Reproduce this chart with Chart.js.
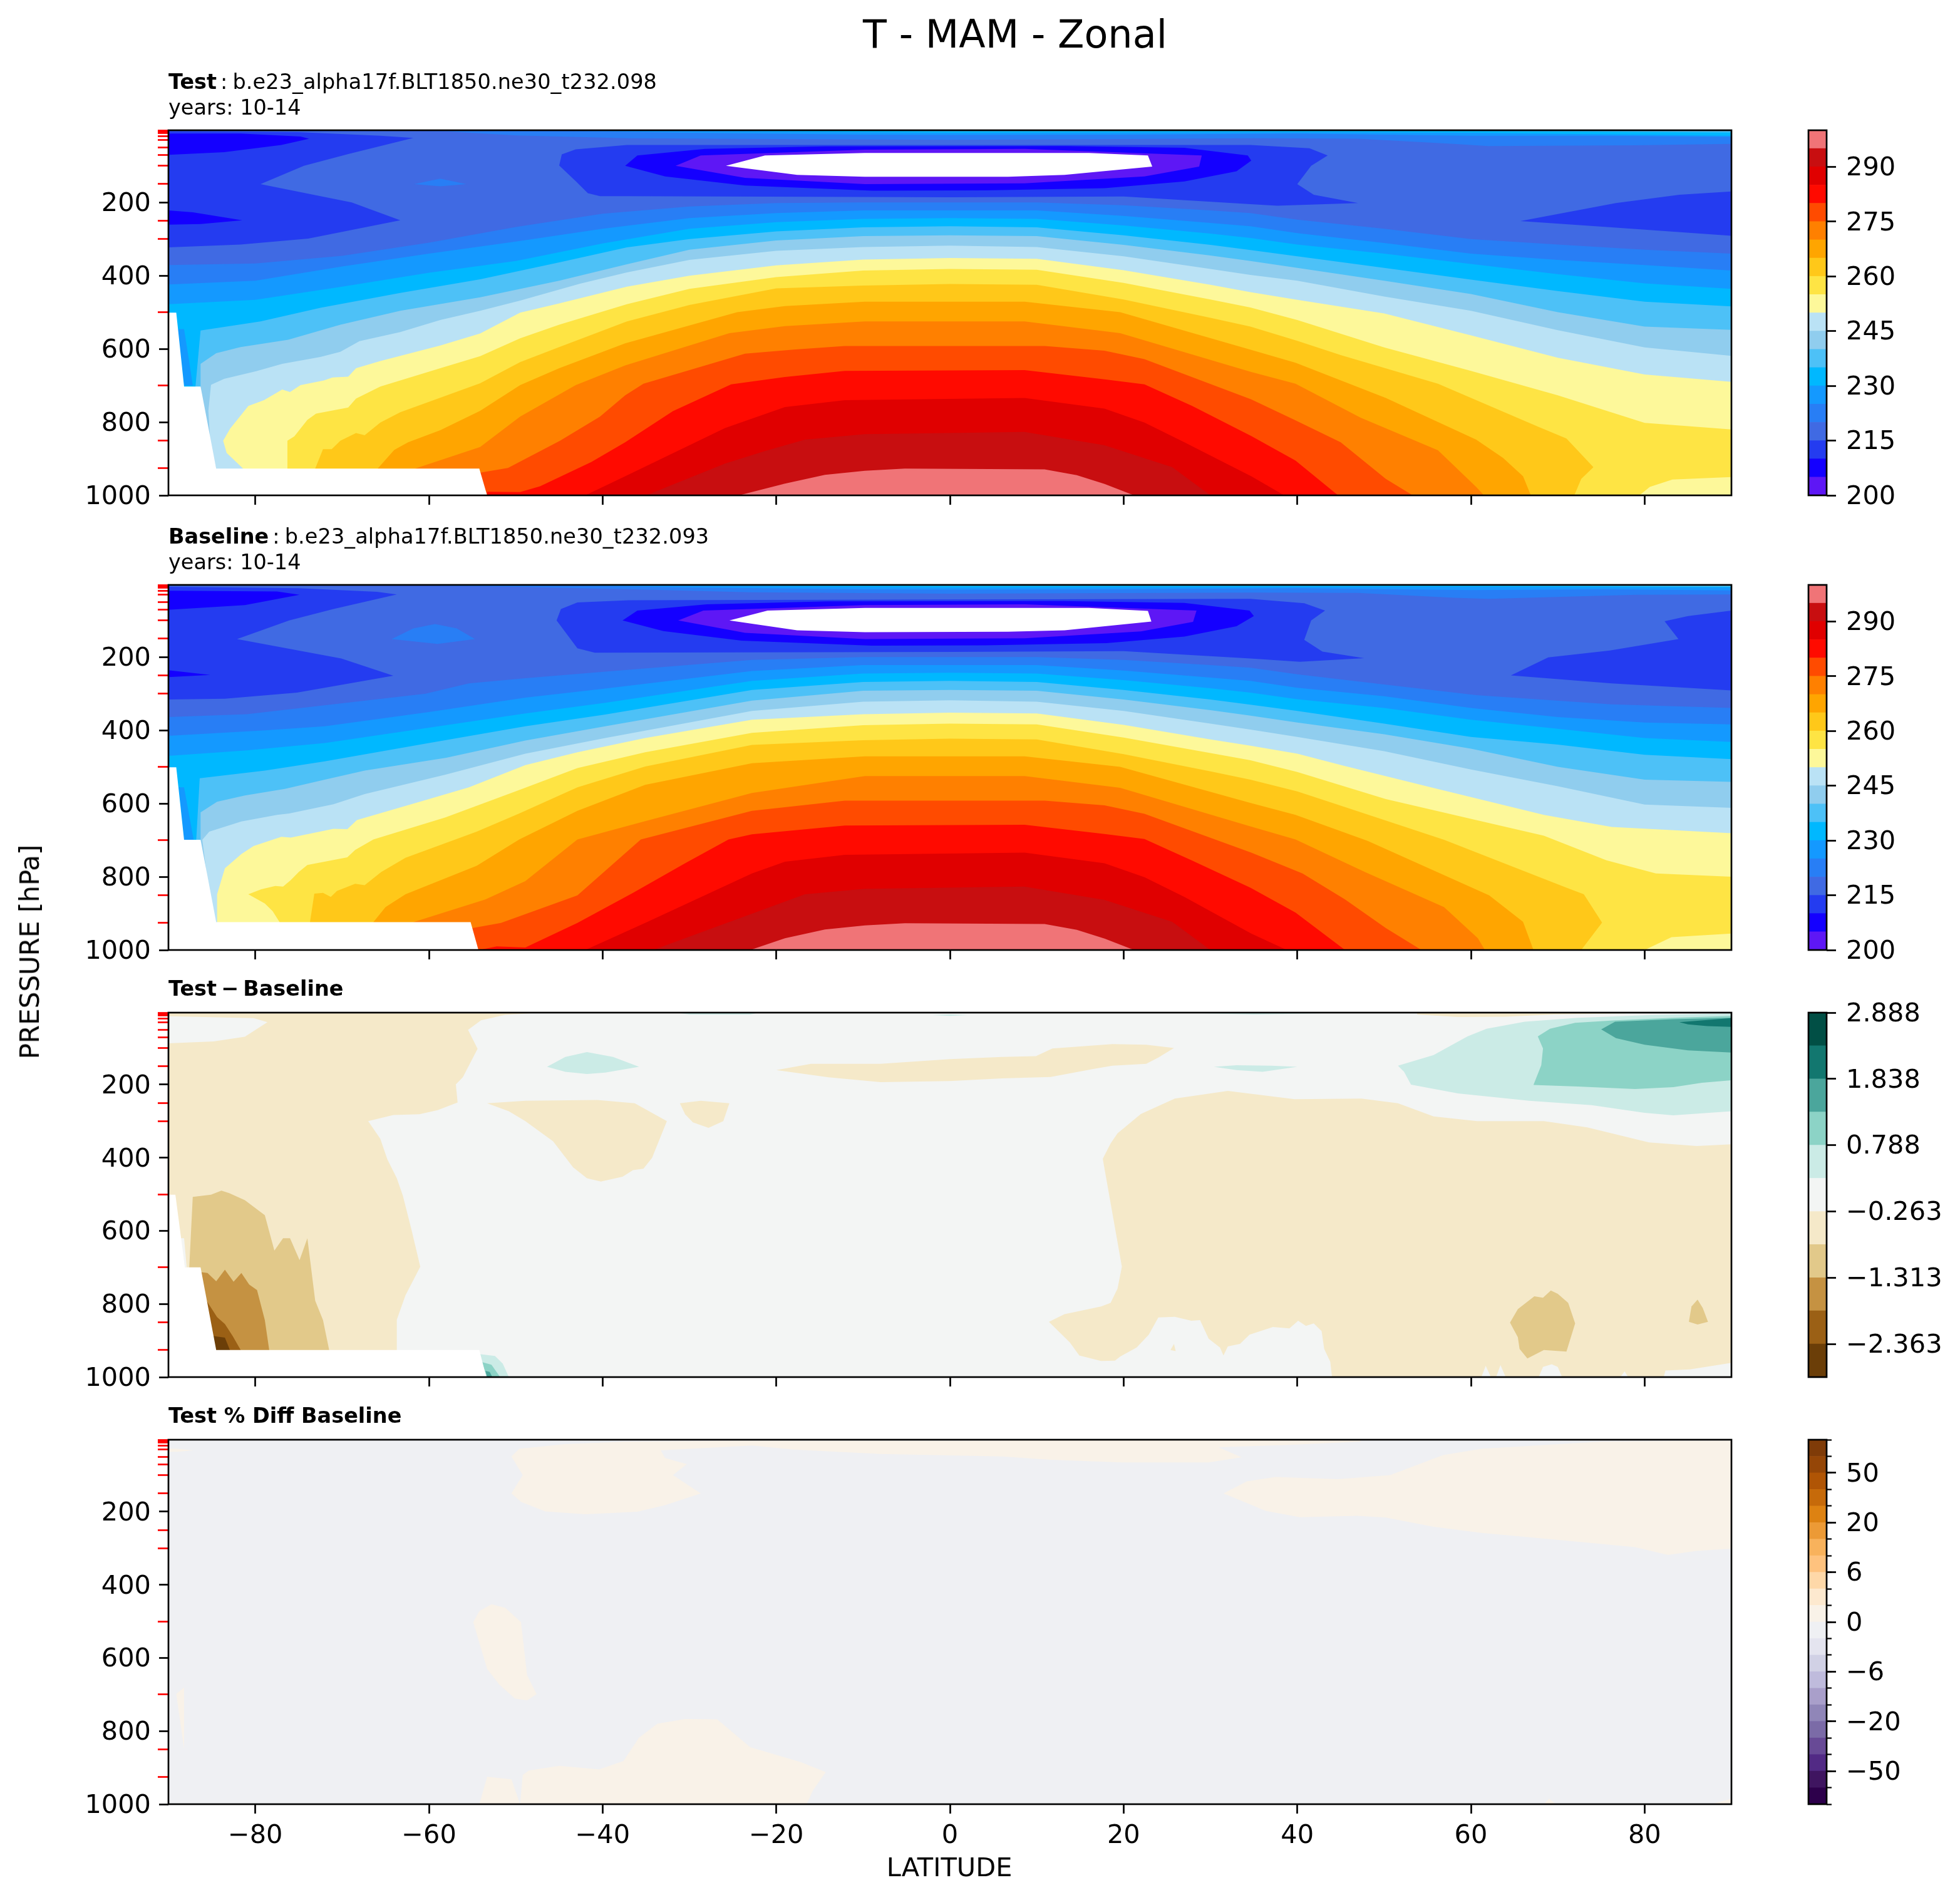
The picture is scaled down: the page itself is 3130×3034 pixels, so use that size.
<!DOCTYPE html>
<html><head><meta charset="utf-8">
<script src="https://cdn.jsdelivr.net/npm/chart.js@4/dist/chart.umd.js"></script>
<style>
html,body{margin:0;padding:0;background:#fff}
#page{position:relative;width:3130px;height:3034px;background:#fff;overflow:hidden;font-family:'DejaVu Sans';color:#000}
canvas{position:absolute}
.t{position:absolute;white-space:pre;line-height:1em}
</style></head><body><div id="page"></div>
<script>
// ---------- axis values ----------
const latTicks=[-80,-60,-40,-20,0,20,40,60,80];
const pressureTicks=[200,400,600,800,1000];
const dataLevels=[3,5,7,10,20,30,50,70,100,150,250,300,500,700,850,925];
const tempLevels=[200,205,210,215,220,225,230,235,240,245,250,255,260,265,270,275,280,285,290,295,300];
const tempTicks=[200,215,230,245,260,275,290];
const tempColors=['#5e17f5','#1400ff','#243cf0','#406ae3','#287ef5','#1499ff','#00b8ff','#4dc1f7','#90cdee','#bae2f5','#fdf89a','#fee444','#ffc819','#ffa500','#ff8000','#ff4b00','#ff0a00','#e00000','#c80e10','#f07477'];
const diffLevels=[-2.888,-2.363,-1.838,-1.313,-0.788,-0.263,0.263,0.788,1.313,1.838,2.363,2.888];
const diffTicks=[-2.363,-1.313,-0.263,0.788,1.838,2.888];
const diffColors=['#6b3e08','#9b6015','#c59242','#e2c98a','#f5e9c9','#f3f5f4','#cbebe6','#8cd3c6','#4ba69c','#12776f','#014f45'];
const pctLevels=[-100,-75,-50,-40,-30,-20,-15,-10,-6,-4,-2,0,2,4,6,10,15,20,30,40,50,75,100];
const pctTicks=[-50,-20,-6,0,6,20,50];
const pctColors=['#2d004b','#3f1560','#522a85','#684a96','#7b6ba7','#9086b8','#a99fca','#bfbbdc','#d1d1e5','#e4e4ef','#eff0f3','#f9f2e8','#fde9cf','#fed8a8','#fec27e','#f8b25c','#ec9a36','#dd8212','#c66a0a','#b05505','#954607','#7f3b08'];

// ---------- Test panel: isotherms (lat, hPa) ----------
const a220=[[-90,371],[-80,367],[-70,346],[-60,310],[-50,267],[-40,231],[-30,211],[-20,202],[-10,200],[0,200],[10,200],[20,208],[30,222],[34.6,229],[40,247],[50,272],[60,300],[70,315],[80,329],[90,340]];
const a225=[[-90,424],[-80,414],[-70,375],[-60,340],[-50,307],[-40,272],[-30,243],[-20,229],[-10,222],[0,222],[10,222],[20,237],[30,256],[34.6,265],[40,284],[50,311],[60,340],[70,357],[80,371],[90,386]];
const a230=[[-90,478],[-80,466],[-70,430],[-60,392],[-50,360],[-40,312],[-30,272],[-20,254],[-10,245],[0,243],[10,245],[20,263],[30,285],[34.6,297],[40,315],[50,340],[60,368],[70,396],[80,421],[90,436]];
const a235=[[-86.9,1000],[-86.9,706],[-86.3,550],[-79.4,525],[-72.5,488],[-63.3,447],[-54.1,410],[-45,364],[-37.2,323],[-30,300],[-20,279],[-10,268],[0,265],[10,268],[20,290],[30,316],[34.6,330],[40,347],[50,379],[60,411],[70,442],[80,471],[90,484]];
const a240=[[-86.3,1000],[-86.3,641],[-84.5,612],[-81.7,595],[-76.2,575],[-70.2,534],[-63.3,496],[-54.1,459],[-45,414],[-37.2,369],[-30,329],[-20,304],[-10,292],[0,290],[10,292],[20,316],[30,345],[34.6,360],[40,379],[50,414],[60,450],[70,500],[80,539],[90,548]];
const a245=[[-84.5,1000],[-84.5,927],[-85.2,851],[-85.4,769],[-85.1,698],[-83.6,682],[-79.9,661],[-76.9,641],[-72.5,622],[-70.2,608],[-68,579],[-63.3,554],[-58.7,521],[-54.1,496],[-49.5,468],[-42.6,422],[-37.2,391],[-30,357],[-20,332],[-10,322],[0,318],[10,322],[20,347],[30,382],[34.6,398],[40,414],[50,457],[60,496],[70,549],[80,596],[90,619]];
const a250=[[-81.4,1000],[-81.4,927],[-83.3,884],[-83.7,851],[-82.9,818],[-80.8,756],[-79,740],[-76.9,711],[-76,718],[-74.8,699],[-72.1,686],[-71.1,678],[-69.3,676],[-68.4,653],[-65.6,633],[-58.7,591],[-54.1,558],[-49.5,501],[-45,476],[-37.2,430],[-30,400],[-20,372],[-10,356],[0,352],[10,354],[20,385],[30,425],[34.6,445],[40,466],[50,503],[60,563],[70,624],[80,670],[90,690]];
const a255=[[-76.3,1000],[-76.3,851],[-75.5,839],[-74,794],[-73,777],[-69.3,760],[-68.4,736],[-65.6,703],[-58.7,653],[-54.1,620],[-49.5,571],[-45,534],[-37.2,478],[-30,436],[-20,404],[-10,386],[0,382],[10,384],[20,420],[30,465],[34.6,487],[40,521],[50,596],[60,660],[70,727],[80,802],[90,820]];
const a260=[[-73.1,1000],[-73.1,927],[-72.2,874],[-71.2,874],[-70.2,851],[-68.4,830],[-67.4,836],[-65.6,801],[-63.3,773],[-54.1,694],[-49.5,636],[-45,595],[-37.2,525],[-30,480],[-20,435],[-10,427],[0,423],[10,425],[20,465],[30,515],[34.6,539],[40,578],[45,617],[56.2,695],[67.8,813],[71,845],[74.1,923],[72.7,955],[71.9,1000]];
const a265=[[-65.9,1000],[-65.9,927],[-64,876],[-62.4,855],[-58.7,822],[-54.1,769],[-49.5,699],[-45,653],[-37.4,585],[-24.5,500],[-19,483],[-9.8,471],[8.6,471],[19.6,500],[34.7,603],[39.8,638],[50.2,734],[60.6,848],[63.7,898],[66,948],[66.9,1000]];
const a270=[[-61.6,1000],[-61.6,927],[-54.1,868],[-49.5,785],[-43.1,699],[-37.4,645],[-25.4,557],[-19,538],[-9.8,525],[8.6,525],[19.6,557],[34.7,663],[39.8,695],[47.3,788],[56.2,877],[60.6,977],[61.5,1000]];
const a275=[[-54.1,1000],[-54.1,938],[-50.9,925],[-44.9,851],[-40.3,785],[-37.4,727],[-35.3,695],[-23.6,613],[-18,602],[-12.1,592],[10.9,592],[17.8,605],[22.4,628],[34.7,738],[39.8,795],[45,855],[50.2,955],[53.3,1000]];
const a280=[[-53.3,1000],[-53.3,990],[-49.5,991],[-47.2,975],[-41.3,909],[-37.4,855],[-31.9,770],[-25.2,697],[-19,677],[-12.1,660],[8.6,658],[17.8,683],[22.4,697],[27.9,756],[34.7,838],[39.8,905],[44.7,1000]];
const a285=[[-42,1000],[-37.4,948],[-25.9,816],[-19,759],[-12.1,740],[8.6,734],[17.8,763],[22.4,801],[27,855],[34.7,948],[38.5,1000]];
const a290=[[-35,1000],[-25.9,913],[-21.3,879],[-16.7,848],[-9.8,833],[8.6,827],[17.8,863],[25.6,923],[30,1000]];
const a295=[[-24.3,1000],[-19,968],[-14.4,944],[-9.8,933],[-5.2,927],[10.9,929],[14.6,945],[17.8,969],[21.2,1000]];
const aPale=[[79.4,1000],[80.6,977],[83.2,957],[90,950],[90,1000]];
const aTop220=[[-65,3],[-58,6],[-50,17],[-37,25],[-20,27],[0,29],[20,27],[35,25],[47,26],[58,40],[62,46],[79,44],[90,40],[90,3]];
const aTop225=[[-48,3],[-30,10],[-10,15],[0,16],[20,15],[40,12],[60,18],[75,18],[90,21],[90,3]];
const aTop230=[[-35,3],[-20,7],[0,10],[20,9],[40,8],[60,10],[75,14],[90,18],[90,3]];
const aTop235=[[-20,3],[0,6],[40,5],[60,5],[75,7],[90,9],[90,3]];
const aTop240=[[-5,3],[20,4],[60,4],[90,5],[90,3]];
const aBlueL=[[-90,6],[-75,8],[-65.6,18],[-61.8,24],[-69.3,68],[-74.4,100],[-79.4,150],[-68.9,200],[-63.3,249],[-73.9,299],[-81.7,315],[-90,323]];
const aPureL=[[-90,12],[-81.7,12],[-74.8,20],[-73.8,26],[-77,43],[-83.6,63],[-90,70]];
const aPureL2=[[-90,222],[-87.2,227],[-81.5,249],[-86.3,259],[-90,261]];
const aBlob=[[-61.7,150],[-58.7,135],[-55.7,150],[-58.7,156]];
const aBlueC=[[-37.2,43],[-43.1,55],[-44.7,69],[-45,99],[-43.1,142],[-41.7,175],[-40.3,183],[-37.2,183],[0,186],[20,184],[34.6,205],[37.7,209],[47,202],[41.9,179],[40,150],[41.6,100],[43.5,72],[41.4,52],[34.6,43]];
const aPureC=[[-37.4,100],[-36,72],[-28.2,54],[-14.4,47],[13.2,46],[27,51],[34.3,72],[34.7,86],[33,115],[27,143],[17.8,161],[4,167],[-8.9,168],[-23.6,154],[-32.8,129]];
const aViolet=[[-31.6,100],[-28.7,72],[-9.8,56],[8.6,54],[29,72],[28.7,102],[22.4,129],[8.6,148],[-9.8,150],[-23.6,133]];
const aWhite=[[-25.8,100],[-21.3,72],[-9.8,65],[16,65],[22.8,72],[23.3,102],[13.2,125],[6.7,130],[-9.8,130],[-17.6,125]];
const aBlueR=[[65.7,251],[76.7,202],[84,179],[90,170],[90,291],[76.2,268]];
const aSliver=[[-88.9,546],[-88.2,546],[-87.6,636],[-87.2,700],[-88.2,700]];
const aMissing=[[-90,501],[-89.1,501],[-88.2,703],[-86.3,703],[-84.5,927],[-54.2,927],[-53.3,1000],[-90,1000]];

// ---------- Baseline panel ----------
const b220=[[-90,364],[-81,356],[-60.4,300],[-55.4,272],[-48.9,258],[-39.7,240],[-22.8,208],[-10,200],[0,200],[10,200],[20,208],[30,222],[34.6,229],[40,247],[50,275],[60.6,304],[76.2,329],[90,339]];
const b225=[[-90,415],[-78.9,400],[-72,389],[-60,350],[-48.9,311],[-39.7,286],[-22.8,238],[-10,222],[0,222],[10,222],[20,237],[30,256],[34.6,265],[40,284],[50,307],[60,339],[70,364],[80,379],[90,384]];
const b230=[[-90,470],[-81,455],[-72,435],[-60,393],[-48.9,354],[-39.7,325],[-22.8,265],[-10,245],[0,243],[10,245],[20,263],[30,285],[34.6,297],[40,315],[50,339],[60,371],[70,396],[80,421],[90,432]];
const b235=[[-86.8,1000],[-86.8,699],[-86.4,531],[-78.9,510],[-72,485],[-60,435],[-48.9,389],[-39.7,357],[-22.8,290],[-10,268],[0,265],[10,268],[20,290],[30,316],[34.6,330],[40,347],[50,382],[60,418],[70,439],[80,467],[90,479]];
const b240=[[-86.3,1000],[-86.3,624],[-84.4,595],[-81.2,578],[-76.6,560],[-72,535],[-67.4,510],[-58,475],[-48.9,428],[-39.7,389],[-22.8,319],[-10,292],[0,290],[10,292],[20,316],[30,345],[34.6,360],[40,379],[50,411],[60,450],[70,500],[80,535],[90,541]];
const b245=[[-84.5,1000],[-84.5,924],[-85.3,848],[-86.1,699],[-85.3,677],[-81.6,649],[-77.5,631],[-76.1,627],[-71,602],[-67.4,574],[-58.1,521],[-48.9,464],[-39.7,421],[-22.8,347],[-10,322],[0,318],[10,322],[20,347],[30,382],[34.6,398],[40,418],[50,457],[60,507],[70,553],[80,603],[90,612]];
const b250=[[-84.4,1000],[-84.4,848],[-83.5,777],[-81.6,738],[-80.2,716],[-77,691],[-75.9,693],[-71,669],[-69.4,670],[-68.3,645],[-60,588],[-55.4,556],[-48.9,495],[-42.9,460],[-35.1,421],[-22.8,371],[-10,356],[0,352],[10,354],[20,385],[30,425],[34.6,442],[40,464],[45.2,496],[55.4,556],[68.4,631],[76.2,664],[90,681]];
const b255=[[-77.2,1000],[-77.2,924],[-78,894],[-78.9,873],[-80.8,848],[-79.3,834],[-77.7,825],[-76.8,827],[-75.9,809],[-75,787],[-74,768],[-69.4,747],[-68.5,727],[-66.4,698],[-58.1,638],[-49.6,563],[-42.9,503],[-35.1,460],[-22.8,407],[-10,386],[0,382],[10,384],[20,420],[30,462],[34.6,482],[40,514],[50.2,588],[60.6,645],[68.4,688],[75.6,755],[81.3,791],[90,800]];
const b260=[[-73.7,1000],[-73.7,924],[-73.2,846],[-72.2,844],[-71.3,855],[-70.6,839],[-68.5,819],[-67.4,823],[-65.5,787],[-62.7,748],[-54.5,677],[-49.6,627],[-42.9,556],[-35.1,499],[-22.8,440],[-10,427],[0,423],[10,425],[20,465],[30,512],[34.6,535],[40,567],[45,606],[56.9,699],[71,830],[73,848],[75.1,925],[72.7,1000]];
const b265=[[-66.4,1000],[-66.4,924],[-65,883],[-62.7,848],[-54.5,770],[-49.6,698],[-42.9,620],[-35.1,549],[-22.8,490],[-9.8,471],[8.6,471],[19.6,500],[34.7,599],[39.8,631],[48.1,702],[62.1,851],[66,923],[67.2,1000]];
const b270=[[-61.8,1000],[-61.8,924],[-53.5,862],[-48.9,812],[-42.9,698],[-35.1,648],[-22.8,571],[-9.8,525],[8.6,525],[19.6,557],[34.7,663],[39.8,698],[47.8,787],[56.9,883],[60.8,968],[61.6,1000]];
const b275=[[-55,1000],[-55,940],[-51.7,926],[-42.9,851],[-35.6,698],[-22.8,620],[-12.1,592],[10.9,592],[17.8,605],[22.4,628],[34.7,734],[40.6,791],[45.5,862],[50.2,940],[54.3,1000]];
const b280=[[-54.2,1000],[-52.2,990],[-48.9,993],[-42.9,926],[-36.5,844],[-30.5,763],[-25.5,698],[-22.8,684],[-12.1,660],[8.6,658],[17.8,683],[22.4,697],[27.9,756],[34.6,830],[39.8,898],[45.5,1000]];
const b285=[[-42,1000],[-35.1,926],[-22.8,791],[-19,759],[-12.1,740],[8.6,734],[17.8,763],[22.4,801],[27,855],[34.7,955],[38.8,1000]];
const b290=[[-34.2,1000],[-22.8,901],[-16.7,848],[-9.8,833],[8.6,827],[17.8,863],[25.6,923],[30,1000]];
const b295=[[-23,1000],[-19,968],[-14.4,944],[-9.8,933],[-5.2,927],[10.9,929],[14.6,945],[17.8,969],[21.2,1000]];
const bPale=[[80,1000],[83.1,965],[90,955],[90,1000]];
const bTop220=[[-66,3],[-50,8],[-35,16],[-23,23],[0,27],[35,24],[47,25],[58,38],[62,41],[79,30],[90,29],[90,3]];
const bTop225=[[-48,3],[-30,10],[-10,15],[0,16],[20,15],[40,12],[60,17],[75,15],[90,18],[90,3]];
const bTop230=[[-35,3],[-20,7],[0,10],[20,9],[40,8],[60,8],[75,9],[90,10],[90,3]];
const bTop235=[[-20,3],[0,6],[40,5],[60,5],[90,8],[90,3]];
const bTop240=[[-5,3],[20,4],[60,4],[90,5],[90,3]];
const bBlueL=[[-90,8],[-75,12],[-66,22],[-63.7,29],[-71,69],[-76.1,100],[-82.1,151],[-70.1,204],[-64.1,251],[-75.2,297],[-83.5,314],[-90,316]];
const bPureL=[[-90,19],[-77.5,21],[-74.9,30],[-81.2,58],[-90,71]];
const bPureL2=[[-90,236],[-85.2,249],[-90,255]];
const bBlob=[[-64.3,151],[-61.8,122],[-59.3,110],[-56.8,122],[-54.7,151],[-59,164]];
const bBlueC=[[-42.9,51],[-44.8,69],[-45.3,100],[-42.9,176],[-40.9,188],[0,186],[20,184],[34.6,204],[40.3,213],[47.7,203],[42.9,185],[40.8,153],[41.6,100],[43.2,73],[40.8,53],[34.6,41],[-37,45]];
const bPureC=[[-37.7,100],[-36,73],[-28,56],[-14,48],[13,47],[27,52],[34.5,73],[35,88],[33,116],[27,144],[18,162],[4,168],[-9,169],[-24,155],[-33,129]];
const bViolet=[[-31.3,100],[-28.4,73],[-9.8,58],[8.6,56],[28.4,73],[28,104],[22,130],[8.6,149],[-9.8,151],[-23.6,134]];
const bWhite=[[-25.4,100],[-21,73],[-9.8,66],[16,66],[22.8,74],[23.2,103],[13.2,127],[6.7,131],[-9.8,132],[-17.6,127]];
const bBlueR=[[64.6,250],[68.9,201],[76,182],[83.9,151],[82.3,102],[85,88],[90,73],[90,291],[76.2,272]];
const bSliver=[[-88.8,556],[-88.2,556],[-87.1,699],[-88.2,699]];
const bMissing=[[-90,501],[-89.1,501],[-88.2,699],[-86.3,699],[-84.5,924],[-55.2,924],[-54.3,1000],[-90,1000]];

// ---------- Test - Baseline panel ----------
const dTanL=[[-90,3],[-47,3],[-51.2,9],[-54,24],[-55.5,50],[-54.4,102],[-56.1,180],[-56.9,199],[-56.7,249],[-59,270],[-61.1,281],[-64.1,283],[-67,300],[-65.6,348],[-64.8,404],[-63.7,456],[-63,504],[-62,598],[-61,698],[-62.7,776],[-63.7,843],[-63.7,1000],[-90,1000]];
const dHole=[[-90,13],[-80.2,18],[-78.6,29],[-81.2,69],[-84.8,82],[-90,87]];
const dTan1=[[-53.3,251],[-48.9,244],[-40.6,242],[-36.3,251],[-32.6,300],[-34.3,400],[-35.3,430],[-36.5,434],[-37.7,452],[-40.2,465],[-41.8,456],[-43.4,426],[-45.7,355],[-48.9,300],[-50.8,273]];
const dTan2=[[-31.1,251],[-28.7,244],[-25.4,251],[-26.1,300],[-27.8,318],[-29.6,303],[-30.5,281]];
const dTeal1=[[-46.4,151],[-44.3,124],[-41.8,111],[-38.8,124],[-35.8,151],[-39.7,167],[-41.8,171],[-44.3,165]];
const dTeal2=[[-31.5,3],[-22,3],[-23,8],[-30,8]];
const dTeal3=[[-2,10],[0,8],[2,10],[0,12]];
const dTeal4=[[26,3],[47,3],[35,8]];
const dTeal5=[[30.4,151],[33,147],[37,148],[40,151],[36,165],[33,160]];
const dTanTop=[[53.8,8],[58.5,15],[64,14],[69.5,8],[77.8,5],[77.8,3],[53.8,3]];
const dTanMid=[[-20,160],[-16,143],[-8,143],[0,130],[6,124],[9.9,122],[11.8,101],[18.7,89],[22.6,91],[25.8,100],[24,126],[22.6,143],[18.7,148],[16.5,157],[11.6,179],[6,183],[0,190],[-8,193],[-14,180]];
const dTanR=[[18.5,361],[19.3,333],[22,280],[25.9,238],[32,217],[39.7,240],[47.4,238],[51.6,251],[55.7,287],[60.7,300],[68.4,300],[73.4,317],[80.5,358],[86,368],[90,363],[90,961],[85.2,979],[82.4,982],[82.2,1000],[78.1,1000],[77.7,984],[77.2,1000],[70.5,1000],[70,972],[69.3,965],[68.3,972],[67.8,1000],[64,1000],[63.4,967],[62.9,1000],[62.3,1000],[61.7,969],[61.2,1000],[44,1000],[43.8,958],[43.1,923],[42.8,874],[41.9,853],[41,860],[40.1,846],[39.1,867],[37.2,863],[34.5,884],[33.4,909],[32,916],[31.5,941],[31.1,919],[29.8,895],[28.8,844],[27.8,846],[25.9,835],[24,837],[22.9,884],[21.5,919],[19.6,944],[19,955],[17.4,956],[14.9,941],[13.8,905],[11.4,849],[13.2,828],[17.4,807],[18.5,797],[19.3,758],[19.8,698],[17.6,403]];
const dTiny=[[25.4,926],[25.8,909],[26,929]];
const dBrownR1=[[64.5,851],[65.4,814],[67.3,779],[68.3,783],[69.2,763],[70,772],[71.2,797],[72,853],[71,930],[68.4,926],[66.5,949],[65.6,923],[65.4,891]];
const dBrownR2=[[86.1,788],[86.7,811],[87.3,849],[86.1,856],[85.1,849],[85.4,807]];
const dTealR1=[[51.6,148],[55.7,119],[59.6,68],[61.8,47],[66.2,28],[72.3,17],[80.5,10],[90,5],[90,273],[83.3,284],[80,277],[73.9,256],[66.7,244],[58.5,224],[53.1,200],[52.3,165]];
const dTealR2=[[67.2,201],[68.1,147],[68.3,101],[67.7,68],[69.1,47],[72,31],[76.7,24],[83.3,17],[90,12],[90,188],[86.6,195],[83.3,207],[78.9,212],[72.3,205]];
const dTealR3=[[75,49],[76.6,28],[83.3,21],[90,17],[90,112],[85,106],[80,91],[76.7,73]];
const dTealR4=[[84,29],[90,18],[90,42],[87.2,40],[85,35]];
const dBrown1=[[-87.2,507],[-85.1,501],[-83.9,490],[-83,497],[-81.2,516],[-78.9,557],[-77.8,654],[-76.8,620],[-76,620],[-74.9,680],[-74,620],[-73.1,791],[-72.2,844],[-71.5,925],[-71.5,1000],[-87.6,1000],[-87.6,698]];
const dBrown2=[[-86.2,713],[-85.5,715],[-84.5,738],[-83.5,706],[-82.5,739],[-81.6,715],[-80.7,747],[-79.8,762],[-78.9,844],[-78.4,925],[-78.4,1000],[-86.2,1000]];
const dBrown3=[[-85.8,784],[-84.4,836],[-83.5,855],[-82.6,888],[-81.7,925],[-81.7,1000],[-85.4,1000],[-85.4,851]];
const dBrown4=[[-84.8,888],[-83.5,892],[-82.9,927],[-82.9,1000],[-84.6,1000]];
const dSliver=[[-88.6,620],[-88.2,620],[-87.9,700],[-88.1,700]];
const dBase1=[[-54.2,937],[-52.4,942],[-51.5,963],[-50.8,1000],[-53.4,1000]];
const dBase2=[[-53.9,959],[-52.8,966],[-51.8,1000],[-53.3,1000]];
const dBase3=[[-53.5,983],[-53,986],[-52.7,1000],[-53.3,1000]];
const dMissing=[[-90,501],[-89.2,501],[-88.1,700],[-86.3,700],[-84.5,926],[-54.2,926],[-53.4,1000],[-90,1000]];

// ---------- Test % Diff panel ----------
const pTop1=[[-90,28],[-89,28],[-87.1,32],[-89,36],[-90,36]];
const pTop2=[[-50.5,49],[-49.6,28],[-44.3,15],[-37.4,8],[-25,6],[0,6],[20,3],[47,3],[47.4,8],[39.1,17],[30.9,23.5],[33.6,51],[29.8,65],[19.8,65],[11.6,58],[6,49],[-8,42],[-18,30],[-22.8,19],[-33.3,32],[-32.8,53],[-30.3,70],[-31.9,100],[-28.7,150],[-32.8,182],[-36,200],[-42,207],[-46.6,199],[-49.4,173],[-50.5,150],[-49.2,100]];
const pMid=[[-54.9,502],[-54.2,472],[-52.8,453],[-51.2,463],[-49.4,502],[-48.7,647],[-47.6,699],[-48.7,716],[-50.1,711],[-51.9,673],[-53.3,630]];
const pSliver=[[-89.1,698],[-88.2,681],[-88.2,848]];
const pLow1=[[-54.2,1000],[-53.3,925],[-50.5,932],[-49.5,1000]];
const pLow2=[[-49.5,1000],[-49.2,920],[-48.5,908],[-45,895],[-40.4,905],[-37.6,882],[-35.8,818],[-33.7,780],[-30.5,767],[-26.8,768],[-23,844],[-17.2,885],[-14.3,912],[-15.8,963],[-16.5,1000]];
const pLow3=[[68.4,1000],[69,985],[69.8,1000]];
const pLow4=[[87.7,1000],[90,985],[90,1000]];
const pRight=[[31.5,150],[34.2,117],[37.5,105],[44.7,111],[50.7,100],[56.8,45],[61.2,28],[75,8],[90,5],[90,301],[86,307],[82.7,318],[78.9,297],[69.5,276],[61.2,258],[55.7,241],[50.2,216],[46.9,211],[40.3,215],[36.4,198]];

// ---------- assembling ----------
const full=[[-90,3],[90,3],[90,1000],[-90,1000]];
const T=v=>tempColors[tempLevels.indexOf(v)];
const toBottom=c=>c.concat([[c[c.length-1][0],1000],[c[0][0],1000]]);
const layers=(list)=>list.map(([pts,color])=>({pts,color}));
function tempPanel(s){return layers([[full,T(215)],
 [toBottom(s.i[0]),T(220)],[toBottom(s.i[1]),T(225)],[toBottom(s.i[2]),T(230)],[toBottom(s.i[3]),T(235)],[toBottom(s.i[4]),T(240)],[toBottom(s.i[5]),T(245)],[toBottom(s.i[6]),T(250)],[toBottom(s.i[7]),T(255)],[toBottom(s.i[8]),T(260)],[toBottom(s.i[9]),T(265)],[toBottom(s.i[10]),T(270)],[toBottom(s.i[11]),T(275)],[toBottom(s.i[12]),T(280)],[toBottom(s.i[13]),T(285)],[toBottom(s.i[14]),T(290)],[toBottom(s.i[15]),T(295)],
 [s.pale,T(250)],[s.top[0],T(220)],[s.top[1],T(225)],[s.top[2],T(230)],[s.top[3],T(235)],[s.top[4],T(240)],
 [s.blueL,T(210)],[s.pureL,T(205)],[s.pureL2,T(205)],[s.blob,T(220)],[s.blueC,T(210)],[s.blueR,T(210)],[s.pureC,T(205)],[s.violet,T(200)],[s.white,'#ffffff'],[s.sliver,T(225)],[s.missing,'#ffffff']]);}
const panelA=tempPanel({i:[a220,a225,a230,a235,a240,a245,a250,a255,a260,a265,a270,a275,a280,a285,a290,a295],pale:aPale,top:[aTop220,aTop225,aTop230,aTop235,aTop240],blueL:aBlueL,pureL:aPureL,pureL2:aPureL2,blob:aBlob,blueC:aBlueC,blueR:aBlueR,pureC:aPureC,violet:aViolet,white:aWhite,sliver:aSliver,missing:aMissing});
const panelB=tempPanel({i:[b220,b225,b230,b235,b240,b245,b250,b255,b260,b265,b270,b275,b280,b285,b290,b295],pale:bPale,top:[bTop220,bTop225,bTop230,bTop235,bTop240],blueL:bBlueL,pureL:bPureL,pureL2:bPureL2,blob:bBlob,blueC:bBlueC,blueR:bBlueR,pureC:bPureC,violet:bViolet,white:bWhite,sliver:bSliver,missing:bMissing});
const [dB4,dB3,dB2,dB1,dT1,dN,dG1,dG2,dG3,dG4]=diffColors;
const panelD=layers([[full,dN],[dTanL,dT1],[dHole,dN],[dTan1,dT1],[dTan2,dT1],[dTanMid,dT1],[dTanR,dT1],[dTanTop,dT1],[dTiny,dT1],[dTeal1,dG1],[dTeal2,dG1],[dTeal3,dG1],[dTeal4,dG1],[dTeal5,dG1],[dBrownR1,dB1],[dBrownR2,dB1],[dTealR1,dG1],[dTealR2,dG2],[dTealR3,dG3],[dTealR4,dG4],[dBrown1,dB1],[dBrown2,dB2],[dBrown3,dB3],[dBrown4,dB4],[dSliver,dN],[dBase1,dG1],[dBase2,dG2],[dBase3,dG3],[dMissing,'#ffffff']]);
const pctNeg=pctColors[10],pctPos=pctColors[11];
const panelP=layers([[full,pctNeg],[pTop1,pctPos],[pTop2,pctPos],[pMid,pctPos],[pSliver,pctPos],[pLow1,pctPos],[pLow2,pctPos],[pLow3,pctPos],[pLow4,pctPos],[pRight,pctPos]]);

// ---------- drawing ----------
const FONT='DejaVu Sans';
const TICKSIZE=41.5;
const LW=2.7;
const minus=s=>String(s).replace('-','\u2212');
const frame={id:'frame',afterDraw(c){const a=c.chartArea,x=c.ctx;x.save();x.strokeStyle='#000';x.lineWidth=LW;x.strokeRect(a.left,a.top,a.right-a.left,a.bottom-a.top);x.restore();}};
const page=document.getElementById('page');
function canvas(left,top,w,h){const c=document.createElement('canvas');c.width=w;c.height=h;c.style.cssText=`left:${left}px;top:${top}px;width:${w}px;height:${h}px`;page.appendChild(c);return c;}
const setTicks=v=>s=>{s.ticks=v.map(value=>({value}));};
function mainChart(list,top,AH,showX){
 const PT=60,BH=110;
 new Chart(canvas(0,top-PT,2800,PT+AH+BH),{type:'line',plugins:[frame],
  data:{datasets:list.slice().reverse().map(l=>({data:l.pts.map(([x,y])=>({x,y})),fill:'shape',backgroundColor:l.color,borderWidth:0,pointRadius:0,tension:0}))},
  options:{responsive:false,animation:false,devicePixelRatio:1,layout:{padding:{top:PT,right:35,left:0,bottom:0}},
   plugins:{legend:{display:false},title:{display:false},tooltip:{enabled:false}},
   scales:{
    x:{type:'linear',min:-90,max:90,afterBuildTicks:setTicks(latTicks),afterFit(s){s.height=BH;},
      grid:{drawOnChartArea:false,tickLength:15,tickWidth:LW,tickColor:'#000'},border:{display:false},
      ticks:{display:showX,autoSkip:false,maxRotation:0,padding:11,color:'#000',font:{family:FONT,size:TICKSIZE},callback:v=>minus(v)}},
    y:{type:'linear',position:'left',weight:1,reverse:true,min:3,max:1000,afterBuildTicks:setTicks(pressureTicks),afterFit(s){s.width=269;},
      grid:{drawOnChartArea:false,tickLength:15,tickWidth:LW,tickColor:'#000'},border:{display:false},
      ticks:{autoSkip:false,padding:13,labelOffset:3,color:'#000',font:{family:FONT,size:TICKSIZE},callback:v=>String(v)}},
    levels:{type:'linear',position:'left',weight:0,reverse:true,min:3,max:1000,afterBuildTicks:setTicks(dataLevels),afterFit(s){s.width=0;},
      grid:{drawOnChartArea:false,tickLength:17,tickWidth:2.7,tickColor:'#ff0000'},border:{display:false},ticks:{display:false}}
   }}});
}
function colorBar(levels,colors,ticks,top,AH,fmt,useIndex){
 const PT=60,PB=60,LEFT=88,BARW=29,RW=212;
 const scaleVal=i=>useIndex?i:levels[i];
 const datasets=colors.map((c,i)=>({data:[[scaleVal(i),scaleVal(i+1)]],backgroundColor:c,borderWidth:0,barPercentage:1,categoryPercentage:1,grouped:false}));
 const tickVals=useIndex?ticks.map(t=>levels.indexOf(t)):ticks;
 const scales={x:{display:false,type:'category'},
  y:{type:'linear',position:'right',weight:1,min:scaleVal(0),max:scaleVal(levels.length-1),afterBuildTicks:setTicks(tickVals),afterFit(s){s.width=RW;},
    grid:{drawOnChartArea:false,tickLength:15,tickWidth:LW,tickColor:'#000'},border:{display:false},
    ticks:{autoSkip:false,padding:16,labelOffset:3,color:'#000',font:{family:FONT,size:TICKSIZE},callback:fmt}}};
 if(useIndex){scales.minor={type:'linear',position:'right',weight:0,min:0,max:levels.length-1,afterBuildTicks:setTicks(levels.map((_,i)=>i)),afterFit(s){s.width=0;},
    grid:{drawOnChartArea:false,tickLength:8,tickWidth:2.2,tickColor:'#000'},border:{display:false},ticks:{display:false}};}
 new Chart(canvas(2800,top-PT,LEFT+BARW+RW,PT+AH+PB),{type:'bar',plugins:[frame],
  data:{labels:['levels'],datasets},
  options:{responsive:false,animation:false,devicePixelRatio:1,layout:{padding:{top:PT,bottom:PB,left:LEFT,right:0}},
   plugins:{legend:{display:false},title:{display:false},tooltip:{enabled:false}},scales}});
}
function text(html,x,base,size,extra){const d=document.createElement('div');d.className='t';d.style.cssText=`left:${x}px;top:${base-0.846*size}px;font-size:${size}px;${extra||''}`;d.innerHTML=html;page.appendChild(d);return d;}

const tops=[208,934,1617,2299];
const heights=[583,583,582,582];
mainChart(panelA,tops[0],heights[0],false);
mainChart(panelB,tops[1],heights[1],false);
mainChart(panelD,tops[2],heights[2],false);
mainChart(panelP,tops[3],heights[3],true);
colorBar(tempLevels,tempColors,tempTicks,tops[0],heights[0],v=>String(v),false);
colorBar(tempLevels,tempColors,tempTicks,tops[1],heights[1],v=>String(v),false);
colorBar(diffLevels,diffColors,diffTicks,tops[2],heights[2],v=>minus(v.toFixed(3)),false);
colorBar(pctLevels,pctColors,pctTicks,tops[3],heights[3],v=>minus(pctLevels[v]),true);

const sep='<span style="margin:0 8px 0 6px">:</span>';
const SMALL=33.5;
const nameStyle='<span style="letter-spacing:0.11px">';
text('T - MAM - Zonal',1621,76,62,'transform:translateX(-50%)');
text('<b>Test</b>'+sep+nameStyle+'b.e23_alpha17f.BLT1850.ne30_t232.098</span>',269,142,SMALL);
text('years: 10-14',269,183,SMALL);
text('<b>Baseline</b>'+sep+nameStyle+'b.e23_alpha17f.BLT1850.ne30_t232.093</span>',269,868,SMALL);
text('years: 10-14',269,909,SMALL);
text('<b>Test<span style="margin:0 7px">\u2212</span>Baseline</b>',269,1590,SMALL);
text('<b>Test % Diff Baseline</b>',269,2272,SMALL);
text('LATITUDE',1516,2996,41.5,'transform:translateX(-50%)');
text('PRESSURE [hPa]',48,1520,42,'transform:translate(-50%,-50%) rotate(-90deg);top:1520px');
</script></body></html>
